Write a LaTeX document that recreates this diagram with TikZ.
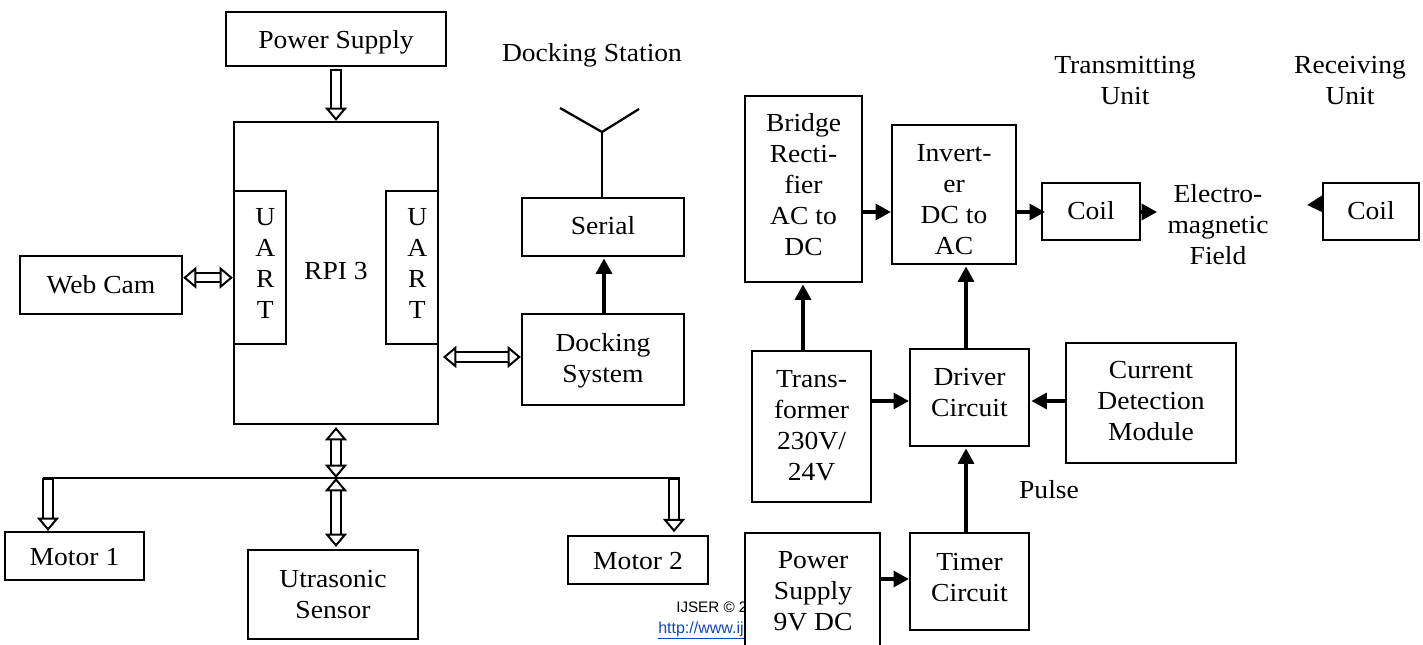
\documentclass[tikz,border=0pt]{standalone}
\usepackage{fontspec}
\setmainfont[FakeStretch=1.06]{Liberation Serif}
\newfontfamily\footfont{Liberation Sans}
\usetikzlibrary{arrows.meta}
\definecolor{linkblue}{RGB}{20,70,190}
\newcommand{\difont}{\fontsize{19.5}{23.25}\selectfont}
\newcommand{\stack}[1]{\begin{tabular}{@{}c@{}}#1\end{tabular}}
% \bx{name}{x1}{y1}{x2}{y2}{raise in px}{lines}
\newcommand{\bx}[7]{%
  \node[boxn, minimum width={(#4-#2)*0.75pt}, minimum height={(#5-#3)*0.75pt}]
    (#1) at ({(#2+#4)/2},{(#3+#5)/2}) {\raisebox{\dimexpr #6pt*3/4\relax}[0pt][0pt]{\stack{#7}}};}
\tikzset{
  boxn/.style={draw=black, fill=white, line width=1.7pt, inner sep=0pt, font=\difont},
  txt/.style={inner sep=0pt, font=\difont},
  wire/.style={draw=black, line width=1.7pt},
  blk/.style={draw=black, line width=2.3pt, -{Triangle[length=11.5pt,width=12pt]}},
  hollowcap/.style={draw=black, line width=1.4pt, double, double distance=5.6pt,
    {Bar[width=8.4pt, line width=1.4pt]}-{Triangle[open, fill=white, length=10pt, width=16.5pt, line width=1.5pt]}},
  hollowboth/.style={draw=black, line width=1.4pt, double, double distance=5.6pt,
    {Triangle[open, fill=white, length=10pt, width=16.5pt, line width=1.5pt]}-{Triangle[open, fill=white, length=10pt, width=16.5pt, line width=1.5pt]}},
}
\begin{document}
\begin{tikzpicture}[x=0.75pt,y=-0.75pt]
\useasboundingbox (0,0) rectangle (1423,645);
\clip (0,0) rectangle (1423,645);
% footer (partly hidden by the box drawn later)
\node[inner sep=0pt, anchor=base west, font=\footfont\fontsize{11.4}{14}\selectfont] (foot1) at (676,612) {IJSER © 2};
\node[inner sep=0pt, anchor=base west, text=linkblue, font=\footfont\fontsize{12}{14}\selectfont] (foot2) at (658,633) {\underline{http://www.ij}};
% left part
\bx{ps}{226}{12}{446}{66}{-10}{Power Supply}
\bx{rpi}{234}{122}{438}{424}{0}{}
\bx{uartl}{234}{191}{286}{344}{-5}{\hspace*{8pt}U\\\hspace*{8pt}A\\\hspace*{8pt}R\\\hspace*{8pt}T}
\bx{uartr}{386}{191}{438}{344}{-5}{\hspace*{8pt}U\\\hspace*{8pt}A\\\hspace*{8pt}R\\\hspace*{8pt}T}
\node[txt] (rpitxt) at (336,271) {RPI 3};
\bx{cam}{20}{256}{182}{314}{-9}{Web Cam}
\bx{serial}{522}{198}{684}{256}{-8}{Serial}
\bx{dock}{522}{314}{684}{405}{-8.5}{Docking\\System}
\bx{m1}{5}{532}{144}{580}{-10}{Motor 1}
\bx{us}{248}{550}{418}{639}{-9.5}{Utrasonic\\Sensor}
\bx{m2}{568}{536}{708}{584}{-10}{Motor 2}
\node[txt] (dstxt) at (592,55) {Docking Station};
% antenna
\coordinate (ajoin) at (602,132);
\coordinate (aleft) at (560,108);
\coordinate (aright) at (639,109);
\draw[wire] (serial.north -| ajoin) -- (ajoin);
\draw[wire] (aleft) -- (ajoin) -- (aright);
% bus
\coordinate (busl) at (43,478);
\coordinate (busr) at (680,478);
\coordinate (busc) at (336,478);
\coordinate (busm1) at (48,478);
\coordinate (busm2) at (674,478);
\draw[wire] (busl) -- (busr);
\draw[hollowcap] ([yshift=-1.5pt]ps.south) -- (rpi.north);
\draw[hollowboth] ([yshift=5.5pt]cam.east) -- ([yshift=5.5pt]cam.east -| uartl.west);
\coordinate (dk) at (443,357);
\draw[hollowboth] (dk) -- (dk -| dock.west);
\draw[hollowboth] ([yshift=-1.5pt]rpi.south) -- (busc);
\draw[hollowboth] (busc) -- ([yshift=1.5pt]busc |- us.north);
\draw[hollowcap] (busm1) -- (busm1 |- m1.north);
\draw[hollowcap] (busm2) -- ([yshift=2pt]busm2 |- m2.north);
\coordinate (ds) at (604,300);
\draw[blk] (dock.north -| ds) -- ([yshift=-1pt]serial.south -| ds);
% right part
\bx{br}{745}{96}{862}{282}{-5}{Bridge\\Recti-\\fier\\AC to\\DC}
\bx{inv}{892}{125}{1016}{264}{-14}{Invert-\\er\\DC to\\AC}
\bx{coila}{1042}{183}{1140}{240}{-9}{Coil}
\bx{coilb}{1323}{183}{1419}{240}{-9}{Coil}
\bx{tr}{752}{351}{871}{502}{-8}{Trans-\\former\\230V/\\24V}
\bx{drv}{910}{349}{1029}{446}{-4}{Driver\\Circuit}
\bx{cur}{1066}{343}{1236}{463}{-7}{Current\\Detection\\Module}
\bx{tm}{910}{533}{1029}{630}{-5}{Timer\\Circuit}
\bx{ps9}{745}{533}{880}{700}{0}{}
\node[txt, align=center] (ps9txt) at (813,593) {\stack{Power\\Supply\\9V DC}};
\node[txt] (txa) at (1125,83) {\stack{Transmitting\\Unit}};
\node[txt] (rxa) at (1350,83) {\stack{Receiving\\Unit}};
\node[txt] (emf) at (1218,227) {\stack{Electro-\\magnetic\\Field}};
\node[txt] (pulse) at (1049,490) {Pulse};
\coordinate (a1) at (862,212);
\draw[blk] (a1) -- (a1 -| inv.west);
\coordinate (a2) at (1016,212);
\draw[blk] (a2) -- ([xshift=3pt]a2 -| coila.west);
\coordinate (a3) at (803,351);
\draw[blk] (a3) -- ([yshift=-1pt]a3 |- br.south);
\coordinate (a4) at (966,349);
\draw[blk] (a4) -- ([yshift=-1pt]a4 |- inv.south);
\draw[blk] (tm.north -| a4) -- ([yshift=-1pt]drv.south -| a4);
\coordinate (a5) at (871,401);
\draw[blk] (a5) -- (a5 -| drv.west);
\coordinate (a6) at (1066,401);
\draw[blk] (a6) -- ([xshift=1pt]a6 -| drv.east);
\coordinate (a7) at (880,579);
\draw[blk] (a7) -- (a7 -| tm.west);
\coordinate (f1s) at (1141,212);
\coordinate (f1e) at (1157,212);
\draw[blk] (f1s) -- (f1e);
\coordinate (f2s) at (1323,204);
\coordinate (f2e) at (1307,205);
\draw[blk] (f2s) -- (f2e);
\end{tikzpicture}
\end{document}
